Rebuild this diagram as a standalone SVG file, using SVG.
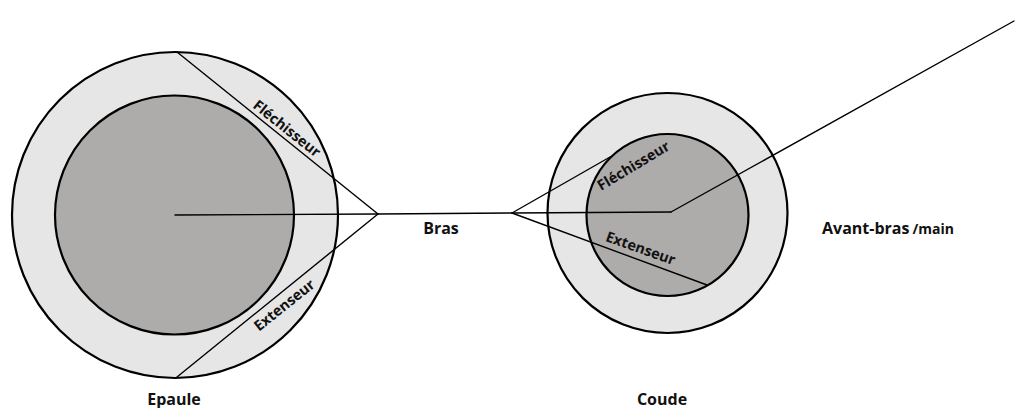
<svg xmlns="http://www.w3.org/2000/svg" width="1018" height="408" viewBox="0 0 1018 408">
<style>
.outer{fill:#e7e6e6;stroke:#000;stroke-width:2.2}
.inner{fill:#aeabab;stroke:#000;stroke-width:2.2}
.ln{stroke:#000;stroke-width:1.4;fill:none;stroke-linecap:round}
.lbl{font-family:"Open Sans","Liberation Sans",sans-serif;font-weight:bold;font-size:16px;fill:#111;text-anchor:middle}
.mus{font-family:"Open Sans","Liberation Sans",sans-serif;font-weight:bold;font-size:14.5px;fill:#111;text-anchor:middle}
</style>
<rect width="1018" height="408" fill="#fff"/>
<g id="epaule">
<circle class="outer" cx="175" cy="215" r="163"/>
<circle class="inner" cx="174.5" cy="215" r="119.5"/>
<text class="lbl" x="174" y="405">Epaule</text>
</g>
<g id="coude">
<circle class="outer" cx="667.5" cy="213" r="120"/>
<circle class="inner" cx="667.5" cy="215" r="81"/>
<text class="lbl" x="662" y="405">Coude</text>
</g>
<g id="connectors">
<line class="ln" x1="175" y1="215" x2="378" y2="214"/>
<line class="ln" x1="177" y1="52" x2="378" y2="214"/>
<line class="ln" x1="177" y1="377" x2="378" y2="214"/>
<line class="ln" x1="378" y1="214" x2="512" y2="213"/>
<line class="ln" x1="512" y1="213" x2="671" y2="212"/>
<line class="ln" x1="512" y1="213" x2="610" y2="157"/>
<line class="ln" x1="512" y1="213" x2="707" y2="285"/>
<line class="ln" x1="671" y1="212" x2="1014" y2="21"/>
</g>
<g id="flechisseur-epaule"><text class="mus" transform="translate(281,136) rotate(38.5)" y="-4.5">Fléchisseur</text></g>
<g id="extenseur-epaule"><text class="mus" transform="translate(277.4,296.6) rotate(-38.7)" y="16">Extenseur</text></g>
<g id="flechisseur-coude"><text class="mus" transform="translate(636,170) rotate(-31)">Fléchisseur</text></g>
<g id="extenseur-coude"><text class="mus" transform="translate(639,253) rotate(19.5)">Extenseur</text></g>
<g id="bras"><text class="lbl" x="441" y="234">Bras</text></g>
<g id="avant-bras"><text class="lbl" x="822" y="234" style="text-anchor:start">Avant-bras<tspan dx="3" font-size="14px">/main</tspan></text></g>
</svg>
